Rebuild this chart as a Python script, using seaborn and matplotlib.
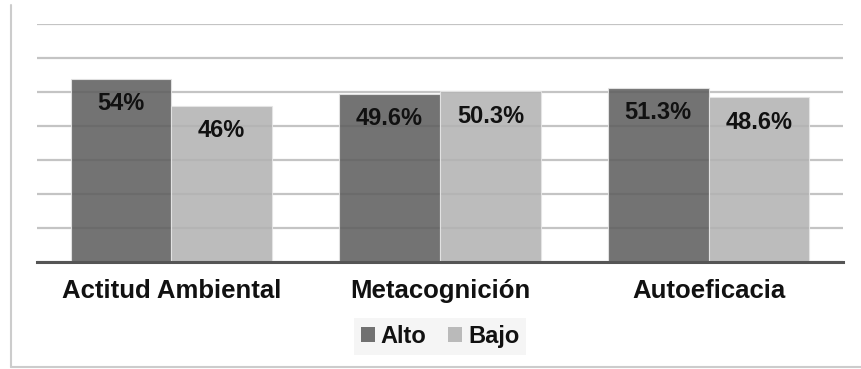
import matplotlib
matplotlib.use("Agg")
import matplotlib.pyplot as plt
from matplotlib.lines import Line2D
from matplotlib.patches import Patch
import seaborn as sns
import pandas as pd

categories = ["Actitud Ambiental", "Metacognición", "Autoeficacia"]
alto = [54, 49.6, 51.3]
bajo = [46, 50.3, 48.6]
series_names = ["Alto", "Bajo"]
series_colors = ["#5e5e5e", "#b2b2b2"]

df = pd.DataFrame({
    "categoria": categories * 2,
    "valor": alto + bajo,
    "nivel": [series_names[0]] * len(alto) + [series_names[1]] * len(bajo),
})

sns.set_theme(style="white")
plt.rcParams["font.family"] = ["Liberation Sans", "DejaVu Sans"]
plt.rcParams["font.weight"] = "bold"

fig = plt.figure(figsize=(8.61, 3.69), dpi=100)
ax = fig.add_axes([0.043, 0.290, 0.936, 0.644])

ax.set_axisbelow(True)
ax.yaxis.grid(True, color="#c4c4c4", linewidth=1.6)
sns.barplot(data=df, x="categoria", y="valor", hue="nivel",
            palette=series_colors, width=0.75, alpha=0.87,
            edgecolor="#e6e6e6", linewidth=0.8, ax=ax, legend=False,
            zorder=3)

ax.set_ylim(0, 70)
ax.set_yticks(range(0, 71, 10))
ax.set_yticklabels([])
ax.tick_params(axis="y", length=0)
ax.tick_params(axis="x", length=0, pad=12, labelsize=18.5)
for lbl in ax.get_xticklabels():
    lbl.set_fontweight("bold")
    lbl.set_color("#111111")
ax.set_xlabel("")
ax.set_ylabel("")
for side in ["top", "right", "left"]:
    ax.spines[side].set_visible(False)
ax.spines["bottom"].set_color("#555555")
ax.spines["bottom"].set_linewidth(2.2)
ax.spines["bottom"].set_zorder(5)

for container in ax.containers:
    for bar in container:
        v = bar.get_height()
        ax.annotate(f"{v:g}%", (bar.get_x() + bar.get_width() / 2, v),
                    xytext=(0, -18), textcoords="offset points",
                    ha="center", va="center", fontsize=17,
                    fontweight="bold", color="#111111", zorder=6)

handles = [Patch(facecolor=c, alpha=0.87, edgecolor="none") for c in series_colors]
leg = fig.legend(handles, series_names, loc="center",
                 bbox_to_anchor=(0.511, 0.089), ncol=2, frameon=True,
                 fontsize=17, handlelength=0.6, handleheight=0.6,
                 handletextpad=0.25, columnspacing=0.9, borderpad=0.3,
                 fancybox=False)
leg.get_frame().set_facecolor("#f3f3f3")
leg.get_frame().set_edgecolor("none")
for t in leg.get_texts():
    t.set_fontweight("bold")
    t.set_color("#111111")

frame_kw = dict(color="#cccccc", linewidth=1.5, transform=fig.transFigure)
fig.add_artist(Line2D([11 / 861, 11 / 861], [1 - 5 / 369, 1 - 367 / 369], **frame_kw))
fig.add_artist(Line2D([11 / 861, 1.0], [1 - 367 / 369, 1 - 367 / 369], **frame_kw))

fig.savefig("out.png", dpi=100, facecolor="white")
